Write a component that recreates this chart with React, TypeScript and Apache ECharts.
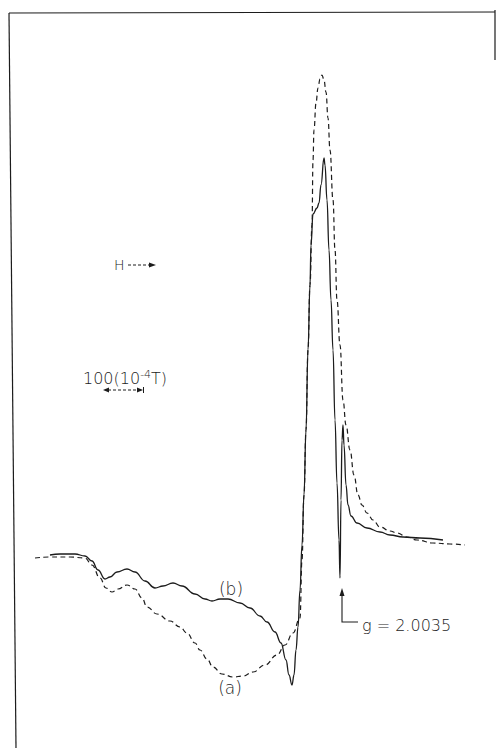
import React, { useEffect, useRef } from "react";
import * as echarts from "echarts";

// Magnetic field (relative, 10^-4 T) and signal (arbitrary units)
const fieldB = [125,150,187.5,212.5,230,245,262.5,275,292.5,317.5,337.5,362.5,387.5,407.5,432.5,455,487.5,512.5,530,550,570,600,625,650,667.5,687.5,702.5,715,722.5,730,735,740,745,750,755,760,765,770,775,777.5,782.5,792.5,797.5,802.5,810,812.5,817.5,822.5,827.5,832.5,837.5,842.5,847.5,850,852.5,855,857.5,860,865,870,877.5,892.5,917.5,950,975,1007.5,1050,1107.5];
const signalB = [0,1,1,-1,-6,-15,-24,-22,-17,-14,-17,-26,-33,-31,-28,-31,-39,-44,-46,-44,-44,-48,-53,-61,-67,-77,-88,-105,-120,-130,-120,-95,-72,-35,10,60,125,205,270,310,341,347,352,370,397,390,355,305,255,205,135,72,15,-23,55,115,130,110,70,50,39,32,27,23,20,18,17,15];

const fieldA = [87.5,125,175,212.5,230,250,265,280,295,317.5,337.5,355,367.5,392.5,425,450,467.5,487.5,500,517.5,532.5,555,582.5,607.5,632.5,662.5,692.5,712.5,732.5,750,755,760,765,770,775,780,782.5,785,790,795,800,805,810,815,820,825,832.5,837.5,842.5,850,857.5,865,875,885,895,905,917.5,932.5,950,975,992.5,1017.5,1042.5,1082.5,1125,1162.5];
const signalA = [-3,-2,-2,-3,-10,-23,-33,-37,-34,-30,-34,-43,-52,-59,-66,-72,-78,-88,-95,-104,-112,-119,-122,-121,-117,-110,-100,-90,-78,-63,-5,60,125,205,270,330,395,425,452,467,476,480,475,463,437,405,355,305,255,210,155,130,105,80,60,50,42,35,28,24,22,18,15,12,11,10];

const labelA = "(a)";
const labelB = "(b)";
const gLabel = "g = 2.0035";
const fieldLabel = "H";

const INK = "#1c1c1c";
const FONT = "'DejaVu Sans', 'Liberation Sans', sans-serif";

export default function App() {
  const ref = useRef<HTMLDivElement>(null);
  useEffect(() => {
    document.body.style.margin = "0";
    const chart = echarts.init(ref.current!, null, { renderer: "svg" });
    const pairs = (xs: number[], ys: number[]) => xs.map((x, i) => [x, ys[i]]);
    const lineCommon = { type: "line", symbol: "none", smooth: 0.45, smoothMonotone: "x", silent: true };
    chart.setOption({
      animation: false,
      backgroundColor: "#ffffff",
      grid: { left: 0, top: 0, width: 497, height: 751 },
      xAxis: { type: "value", min: 0, max: 1242.5, show: false },
      yAxis: { type: "value", min: -196, max: 555, show: false },
      series: [
        { ...lineCommon, name: labelA, data: pairs(fieldA, signalA), lineStyle: { color: INK, width: 1.2, type: [5, 3.5] } },
        { ...lineCommon, name: labelB, data: pairs(fieldB, signalB), lineStyle: { color: INK, width: 1.3 } },
      ],
      graphic: [
        // frame
        { type: "line", shape: { x1: 9, y1: 13, x2: 495, y2: 12 }, style: { stroke: INK, lineWidth: 1.2 } },
        { type: "line", shape: { x1: 9, y1: 13, x2: 16, y2: 748 }, style: { stroke: INK, lineWidth: 1.2 } },
        { type: "line", shape: { x1: 495, y1: 10, x2: 495, y2: 60 }, style: { stroke: INK, lineWidth: 1.2 } },
        // H arrow
        { type: "text", x: 114, y: 265, style: { text: fieldLabel, font: `200 14px ${FONT}`, fill: INK, verticalAlign: "middle" } },
        { type: "line", shape: { x1: 128, y1: 265, x2: 150, y2: 265 }, style: { stroke: INK, lineWidth: 1, lineDash: [3, 2] } },
        { type: "polygon", shape: { points: [[156, 265], [149, 262.5], [149, 267.5]] }, style: { fill: INK } },
        // scale bar
        {
          type: "text", x: 83, y: 378,
          style: {
            rich: { n: { font: `200 16px ${FONT}`, fill: INK }, s: { font: `200 11px ${FONT}`, fill: INK, verticalAlign: "top", padding: [0, 0, 8, 0] } },
            text: "{n|100(10}{s|-4}{n|T)}", verticalAlign: "middle",
          },
        },
        { type: "line", shape: { x1: 108, y1: 390, x2: 138, y2: 390 }, style: { stroke: INK, lineWidth: 1, lineDash: [3, 2] } },
        { type: "polygon", shape: { points: [[103, 390], [109, 387.5], [109, 392.5]] }, style: { fill: INK } },
        { type: "polygon", shape: { points: [[143, 390], [137, 387.5], [137, 392.5]] }, style: { fill: INK } },
        { type: "line", shape: { x1: 143.5, y1: 387, x2: 143.5, y2: 393 }, style: { stroke: INK, lineWidth: 1 } },
        // curve labels
        { type: "text", x: 231, y: 589, style: { text: labelB, font: `200 17px ${FONT}`, fill: INK, align: "center", verticalAlign: "middle" } },
        { type: "text", x: 230, y: 688, style: { text: labelA, font: `200 17px ${FONT}`, fill: INK, align: "center", verticalAlign: "middle" } },
        // g marker
        { type: "polyline", shape: { points: [[342, 594], [342, 622], [358, 622]] }, style: { stroke: INK, lineWidth: 1.1, fill: "none" } },
        { type: "polygon", shape: { points: [[342, 588], [339.5, 596], [344.5, 596]] }, style: { fill: INK } },
        { type: "text", x: 362, y: 625, style: { text: gLabel, font: `200 16px ${FONT}`, fill: INK, verticalAlign: "middle" } },
      ],
    });
    return () => chart.dispose();
  }, []);
  return <div ref={ref} style={{ position: "absolute", left: 0, top: 0, width: 497, height: 751 }} />;
}
